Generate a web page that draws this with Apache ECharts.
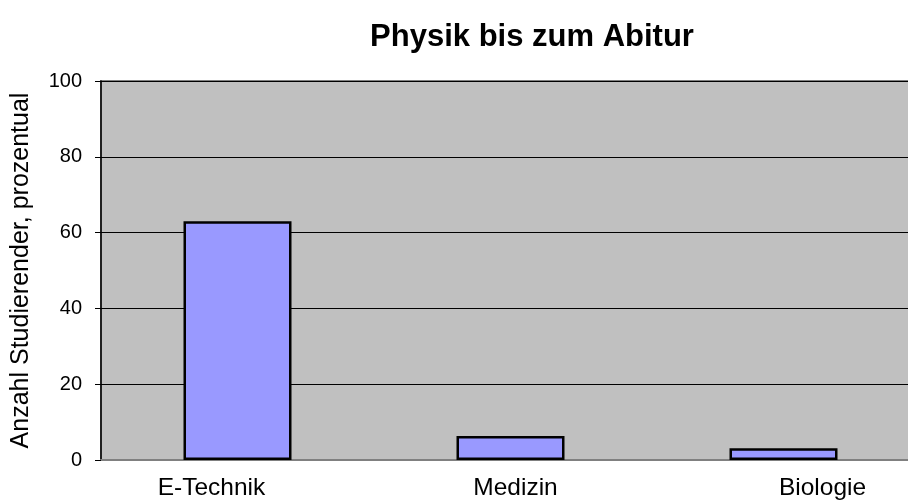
<!DOCTYPE html>
<html>
<head>
<meta charset="utf-8">
<script src="https://cdn.jsdelivr.net/npm/echarts@6/dist/echarts.min.js"></script>
<style>
  html, body { margin: 0; padding: 0; background: #fff; }
  #chart { width: 908px; height: 500px; }
</style>
</head>
<body>
<div id="chart"></div>
<script>
const titleText = 'Physik bis zum Abitur';
const yAxisName = 'Anzahl Studierender, prozentual';
const categories = ['E-Technik', 'Medizin', 'Biologie'];
const values = [63, 6.3, 3.1];
const yTicks = [0, 20, 40, 60, 80, 100];

// label offsets in the original are not centred under the bars
const labelShift = [-26, 5, 39];
const font = '"Liberation Sans", Arial, sans-serif';

const chart = echarts.init(document.getElementById('chart'));

const option = {
  backgroundColor: '#fff',
  animation: false,
  title: {
    text: titleText,
    left: 527,
    top: 17,
    textAlign: 'center',
    textStyle: { fontFamily: font, fontSize: 31, fontWeight: 'bold', color: '#000' }
  },
  grid: {
    left: 101,
    top: 81,
    width: 819,
    bottom: 40,
    containLabel: false,
    outerBoundsMode: 'none',
    show: true,
    backgroundColor: '#c0c0c0',
    borderColor: '#808080',
    borderWidth: 2
  },
  xAxis: {
    type: 'category',
    data: categories.map((c, i) => ({
      value: c,
      textStyle: {
        padding: labelShift[i] < 0 ? [0, -2 * labelShift[i], 0, 0] : [0, 0, 0, 2 * labelShift[i]]
      }
    })),
    axisLine: { show: true, lineStyle: { color: '#808080', width: 2 } },
    axisTick: { show: false },
    axisLabel: { fontFamily: font, fontSize: 24.5, color: '#000', margin: 16 },
    splitLine: { show: false }
  },
  yAxis: {
    type: 'value',
    min: yTicks[0],
    max: yTicks[yTicks.length - 1],
    interval: yTicks[1] - yTicks[0],
    name: yAxisName,
    nameLocation: 'middle',
    nameGap: 67,
    nameTextStyle: { fontFamily: font, fontSize: 25, color: '#000' },
    axisLine: { show: true, lineStyle: { color: '#000', width: 1.5 } },
    axisTick: { show: true, length: 6, lineStyle: { color: '#000' } },
    axisLabel: { fontFamily: font, fontSize: 20, color: '#000', margin: 19 },
    splitLine: { show: true, lineStyle: { color: '#000', width: 1 } }
  },
  series: [{
    type: 'bar',
    data: values,
    barWidth: 108,
    itemStyle: { color: '#9999ff', borderColor: '#000', borderWidth: 2.5 }
  }]
};

chart.setOption(option);
</script>
</body>
</html>
